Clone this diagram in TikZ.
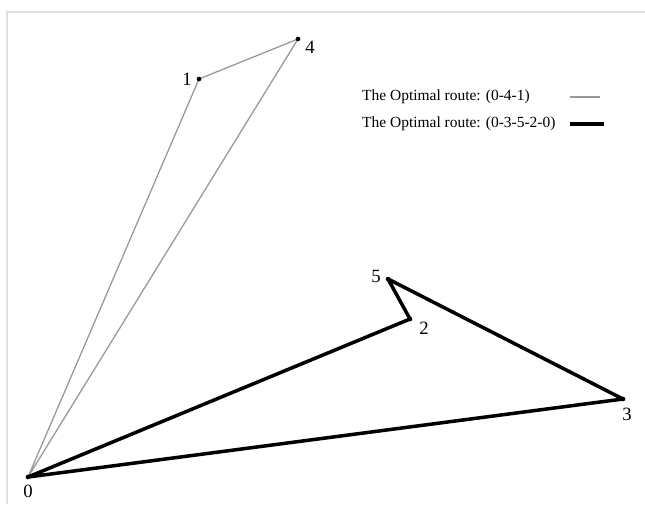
\documentclass[tikz,border=0pt]{standalone}
\usepackage{fontspec}
\setmainfont{Liberation Serif}
\usetikzlibrary{positioning}

\tikzset{
  stop/.style={circle, inner sep=0pt, minimum size=4pt},
  lightroute/.style={draw=black!40, line width=1.1pt},
  heavyroute/.style={draw=black, line width=3pt, line join=round},
  numlabel/.style={font=\fontsize{16}{18}\selectfont, inner sep=0pt},
  legendtext/.style={font=\fontsize{13.2}{15}\selectfont, anchor=west, inner sep=0pt}
}

\begin{document}
\begin{tikzpicture}[x=0.03cm, y=-0.03cm]
        \useasboundingbox (0,0) rectangle (645,504);
        % faint frame of the figure
        \draw[black!12, line width=1pt] (7,504) -- (7,12) -- (645,12);

        % customer locations
        \foreach \n/\px/\py in {0/28/477, 1/199/79, 4/298/39, 5/388/279, 2/410/319, 3/623/399} {
          \node[stop] (p\n) at (\px,\py) {};
        }

        % stop numbers
        \node[numlabel] (l0) at (28,491) {0};
        \node[numlabel] (l1) at (187,79) {1};
        \node[numlabel] (l4) at (310,47) {4};
        \node[numlabel] (l5) at (376,276) {5};
        \node[numlabel] (l2) at (424,328) {2};
        \node[numlabel] (l3) at (627,414) {3};

        % first route
        \draw[lightroute] (p0.center) -- (p4.center) -- (p1.center) -- cycle;

        % second route
        \draw[heavyroute] (p0.center) -- (p3.center) -- (p5.center) -- (p2.center) -- cycle;

        % dots on top of the routes
        \foreach \n in {0,1,4,5,2,3} {
          \fill (p\n.center) circle (2pt);
        }

        % legend
        \node[legendtext] (t1) at (362,97) {The Optimal route: (0-4-1)};
        \node[legendtext] (t2) at (362,124) {The Optimal route: (0-3-5-2-0)};
        \coordinate (a1) at (570,97);
        \coordinate (b1) at (600,97);
        \coordinate (a2) at (570,124);
        \coordinate (b2) at (604,124);
        \draw[lightroute] (a1) -- (b1);
        \draw[heavyroute] (a2) -- (b2);
      \end{tikzpicture}
\end{document}
